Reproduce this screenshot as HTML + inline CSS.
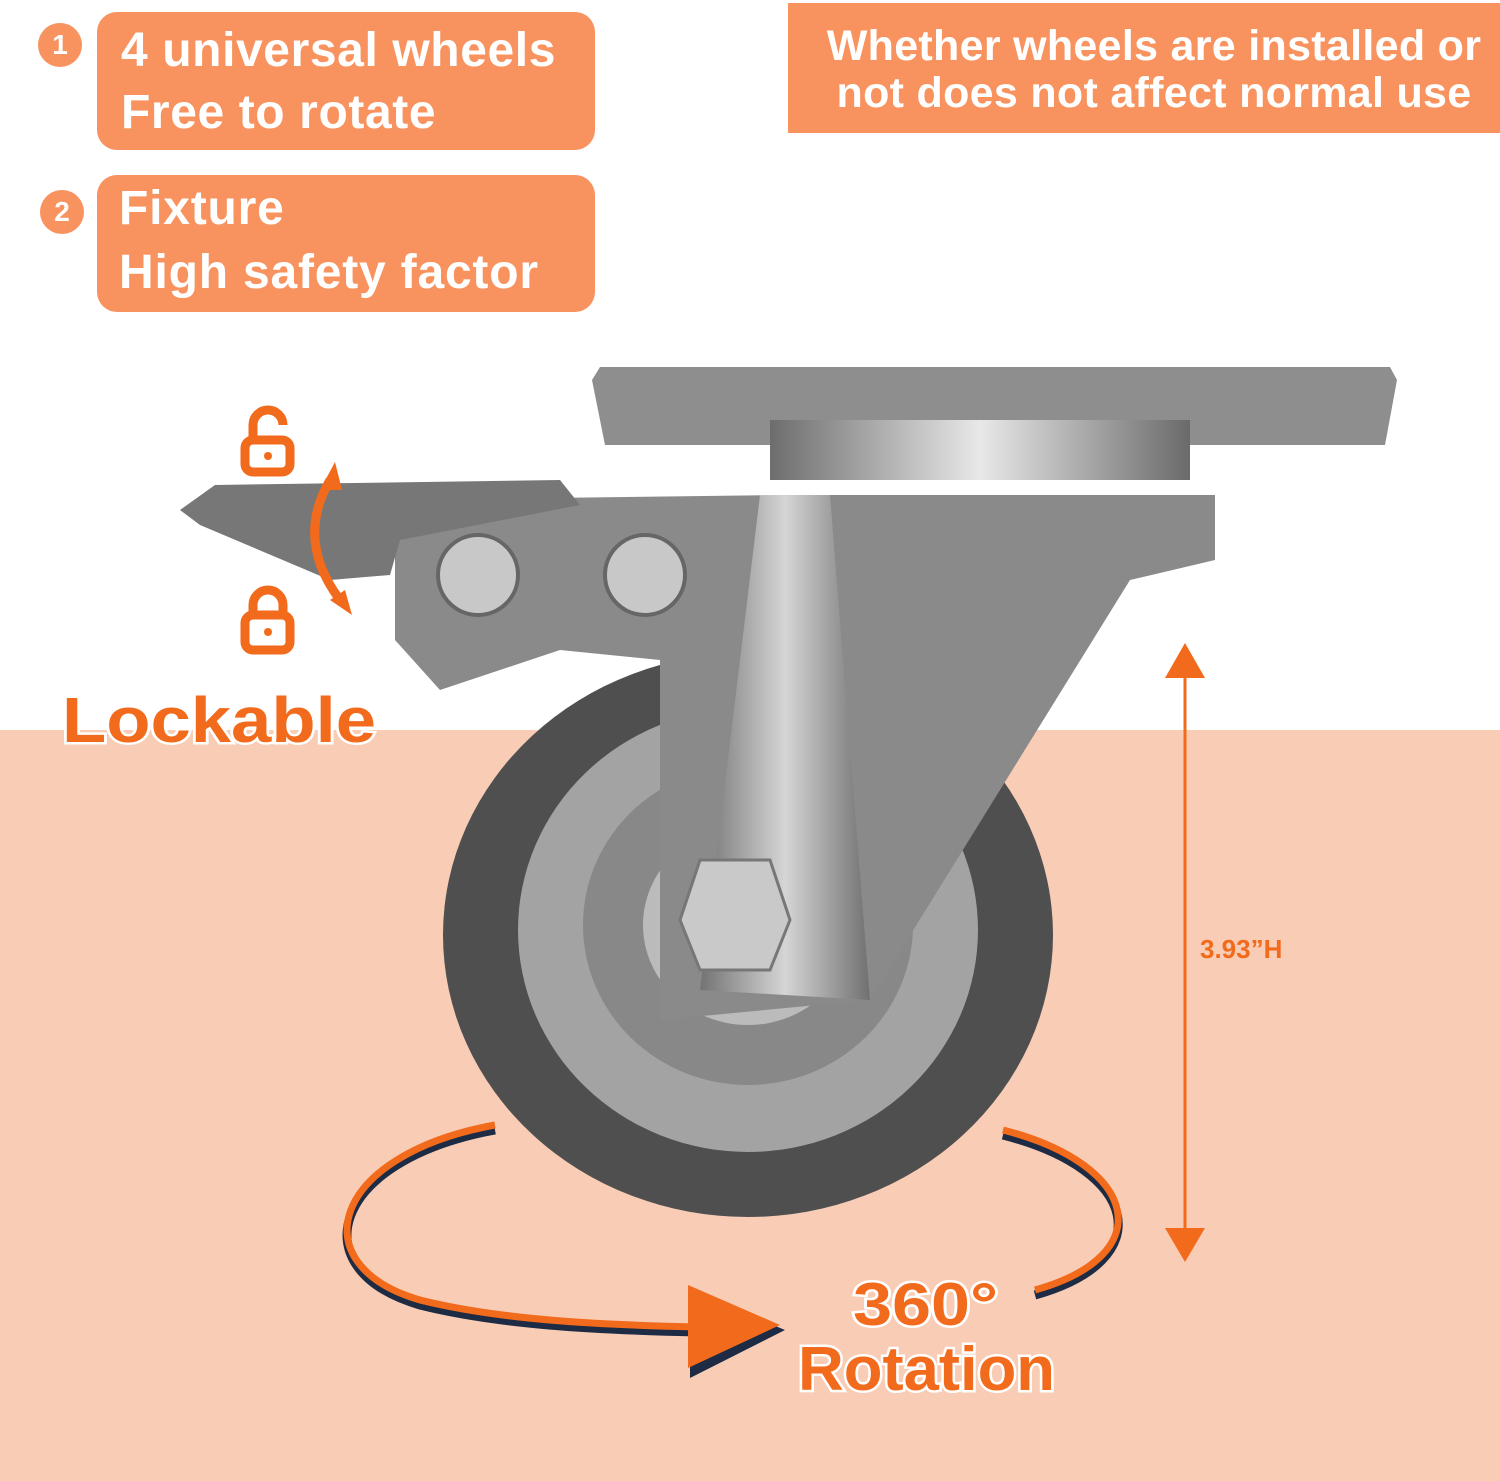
<!DOCTYPE html>
<html><head><meta charset="utf-8"><style>
html,body{margin:0;padding:0}
body{width:1500px;height:1481px;position:relative;overflow:hidden;background:#fff;font-family:"Liberation Sans",sans-serif}
.peach{position:absolute;left:0;top:730px;width:1500px;height:751px;background:#f9cdb5}
.box{position:absolute;background:#f8935f;color:#fff;font-weight:bold;border-radius:20px;white-space:nowrap}
.num{position:absolute;width:44px;height:44px;border-radius:50%;background:#f8935f;color:#fff;font-weight:bold;font-size:28px;text-align:center;line-height:44px}
svg{position:absolute;left:0;top:0}
</style></head><body>
<div class="peach"></div>
<div class="num" style="left:38px;top:23px">1</div>
<div class="box" style="left:97px;top:12px;width:498px;height:138px;font-size:48px;letter-spacing:0.6px;line-height:62px;padding-left:24px;box-sizing:border-box;padding-top:8px">4 universal wheels<br>Free to rotate</div>
<div class="num" style="left:40px;top:190px">2</div>
<div class="box" style="left:97px;top:175px;width:498px;height:137px;font-size:48px;letter-spacing:0.8px;line-height:64px;padding-left:22px;box-sizing:border-box;padding-top:2px">Fixture<br>High safety factor</div>
<div class="box" style="left:788px;top:3px;width:712px;height:130px;border-radius:0;font-size:43px;letter-spacing:0.3px;line-height:47px;text-align:center;padding-top:20px;padding-left:20px;box-sizing:border-box">Whether wheels are installed or<br>not does not affect normal use</div>
<svg width="1500" height="1481" viewBox="0 0 1500 1481">
<defs>
<linearGradient id="met" x1="0" x2="1"><stop offset="0" stop-color="#6d6d6d"/><stop offset="0.5" stop-color="#e8e8e8"/><stop offset="1" stop-color="#6a6a6a"/></linearGradient>
</defs>
<path d="M600 367 H1390 L1397 380 L1385 445 H605 L592 380 Z" fill="#8e8e8e"/>
<rect x="770" y="420" width="420" height="60" fill="url(#met)"/>
<ellipse cx="748" cy="935" rx="305" ry="282" fill="#4f4f50"/>
<ellipse cx="748" cy="930" rx="230" ry="222" fill="#a3a3a3"/>
<ellipse cx="748" cy="925" rx="165" ry="160" fill="#888"/>
<ellipse cx="748" cy="925" rx="105" ry="100" fill="#bbb"/>
<path d="M780 495 H1215 V560 L1130 580 L870 1000 L660 1020 V660 L560 650 L440 690 L395 640 V500 Z" fill="#8a8a8a"/>
<path d="M760 495 L830 495 L870 1000 L700 990 Z" fill="url(#met)" opacity="0.8"/>
<path d="M180 510 L215 485 L560 480 L580 505 L400 540 L390 575 L330 580 L200 525 Z" fill="#777"/>
<circle cx="478" cy="575" r="40" fill="#c8c8c8" stroke="#666" stroke-width="4"/>
<circle cx="645" cy="575" r="40" fill="#c8c8c8" stroke="#666" stroke-width="4"/>
<polygon points="700,860 770,860 790,920 770,970 700,970 680,920" fill="#c9c9c9" stroke="#777" stroke-width="3"/>
<g fill="none" stroke="#f26a1b" stroke-width="9">
<rect x="245" y="440" width="45" height="32" rx="8"/><path d="M253 440 V425 a15 15 0 0 1 30 0"/>
<rect x="245" y="615" width="45" height="35" rx="8"/><path d="M253 615 V605 a15 15 0 0 1 30 0 V615"/>
<path d="M330 480 Q295 540 340 600"/>
</g>
<circle cx="268" cy="456" r="4" fill="#f26a1b"/><circle cx="268" cy="632" r="4" fill="#f26a1b"/>
<polygon points="335,462 320,490 342,490" fill="#f26a1b"/>
<polygon points="352,615 330,600 345,590" fill="#f26a1b"/>
<line x1="1185" y1="670" x2="1185" y2="1235" stroke="#f26a1b" stroke-width="3"/>
<polygon points="1185,643 1165,678 1205,678" fill="#f26a1b"/>
<polygon points="1185,1262 1165,1228 1205,1228" fill="#f26a1b"/>
<text x="1200" y="958" font-size="26" font-weight="bold" fill="#f26a1b" font-family="Liberation Sans">3.93”H</text>
<path d="M495 1130 C330 1160 300 1270 420 1305 C500 1325 600 1330 700 1332" fill="none" stroke="#1d2b44" stroke-width="9"/>
<path d="M495 1125 C330 1155 300 1265 420 1300 C500 1320 600 1325 700 1327" fill="none" stroke="#f26a1b" stroke-width="7"/>
<path d="M1003 1135 C1140 1170 1160 1260 1035 1295" fill="none" stroke="#1d2b44" stroke-width="9"/>
<path d="M1003 1130 C1140 1165 1160 1255 1035 1290" fill="none" stroke="#f26a1b" stroke-width="7"/>
<polygon points="690,1290 785,1330 690,1378" fill="#1d2b44"/>
<polygon points="688,1285 780,1325 688,1368" fill="#f26a1b"/>
<g font-family="Liberation Sans" font-weight="bold" fill="#f26a1b" stroke="#fff" stroke-width="5" paint-order="stroke">
<text x="62" y="742" font-size="64" textLength="314" lengthAdjust="spacingAndGlyphs">Lockable</text>
<text x="853" y="1325" font-size="60" textLength="145" lengthAdjust="spacingAndGlyphs">360°</text>
<text x="798" y="1390" font-size="62" textLength="257" lengthAdjust="spacingAndGlyphs">Rotation</text>
</g>
</svg>
</body></html>
